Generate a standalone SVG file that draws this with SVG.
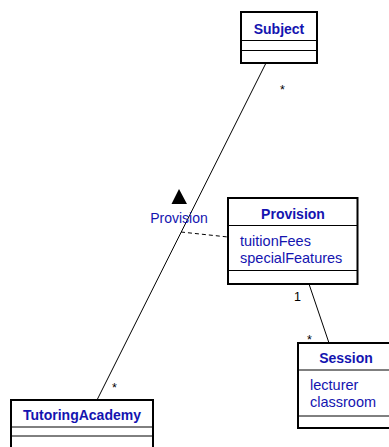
<svg xmlns="http://www.w3.org/2000/svg" width="389" height="447" viewBox="0 0 389 447">
<style>
.box{fill:#fff;stroke:#000;stroke-width:2}
.sep{stroke:#000;stroke-width:1}
.title{font-family:"Liberation Sans",Arial,sans-serif;font-size:14px;font-weight:bold;fill:#1414b0;text-anchor:middle}
.attr{font-family:"Liberation Sans",Arial,sans-serif;font-size:14.5px;fill:#1414b0}
.lbl{font-family:"Liberation Sans",Arial,sans-serif;font-size:14px;fill:#1414b0;text-anchor:middle}
.mult{font-family:"Liberation Sans",Arial,sans-serif;font-size:12.5px;fill:#000000;text-anchor:middle}
.conn{stroke:#000;stroke-width:1;fill:none}
</style>
<rect width="389" height="447" fill="#fff"/>
<g id="connectors">
<line class="conn" x1="266" y1="63" x2="97" y2="400"/>
<line class="conn" x1="181" y1="232" x2="228" y2="237" stroke-dasharray="4,3"/>
<line class="conn" x1="309" y1="284" x2="329" y2="343"/>
<polygon points="179,189 171.5,204 187,204" fill="#000"/>
<text class="lbl" x="179" y="223">Provision</text>
<text class="mult" x="282.5" y="94" fill="#000">*</text>
<text class="mult" x="114.5" y="392" fill="#000">*</text>
<text class="mult" x="297.5" y="301" fill="#000">1</text>
<text class="mult" x="309.5" y="344" fill="#000">*</text>
</g>
<g id="Subject">
<rect class="box" x="241" y="12" width="76" height="51"/>
<line class="sep" x1="241" y1="40.5" x2="317" y2="40.5"/>
<line class="sep" x1="241" y1="50.5" x2="317" y2="50.5"/>
<text class="title" x="279" y="34">Subject</text>
</g>
<g id="Provision">
<rect class="box" x="228" y="198" width="129.5" height="86"/>
<line class="sep" x1="228" y1="225.5" x2="357.5" y2="225.5"/>
<line class="sep" x1="228" y1="270.5" x2="357.5" y2="270.5"/>
<text class="title" x="293" y="219">Provision</text>
<text class="attr" x="240" y="246">tuitionFees</text>
<text class="attr" x="240" y="263">specialFeatures</text>
</g>
<g id="Session">
<rect class="box" x="298" y="343" width="96" height="85"/>
<line class="sep" x1="298" y1="370" x2="394" y2="370"/>
<line class="sep" x1="298" y1="416" x2="394" y2="416"/>
<text class="title" x="346" y="363">Session</text>
<text class="attr" x="310" y="390">lecturer</text>
<text class="attr" x="310" y="407">classroom</text>
</g>
<g id="TutoringAcademy">
<rect class="box" x="11" y="400" width="142" height="60"/>
<line class="sep" x1="11" y1="427" x2="153" y2="427"/>
<line class="sep" x1="11" y1="436" x2="153" y2="436"/>
<text class="title" x="82" y="420">TutoringAcademy</text>
</g>
</svg>
